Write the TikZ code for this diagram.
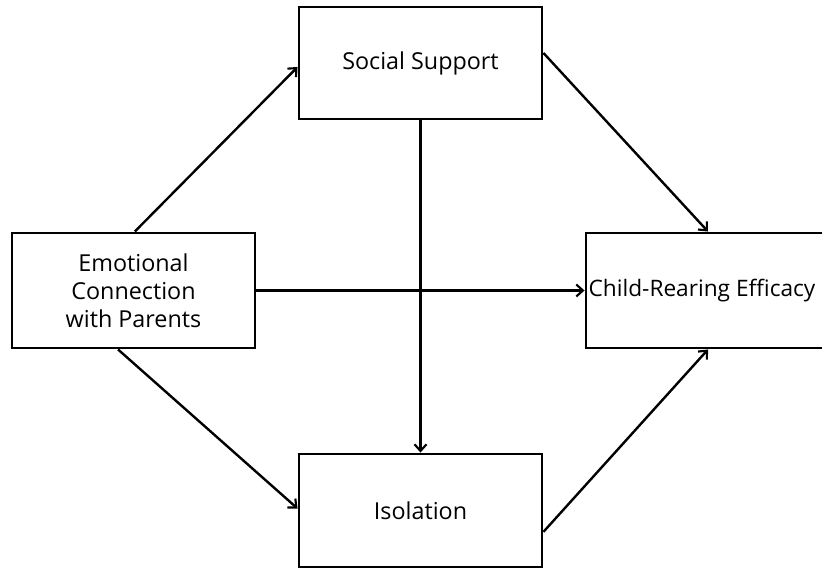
\documentclass[tikz,border=0pt]{standalone}
\usepackage{fontspec}
\setmainfont{Open Sans}
\usetikzlibrary{arrows.meta}
\begin{document}
\begin{tikzpicture}[x=0.75pt,y=-0.75pt,
  box/.style={draw=black,line width=2.2pt,rectangle,align=center,inner sep=0pt,
    font=\fontsize{17.5pt}{21pt}\selectfont},
  conn/.style={line width=1.8pt,-{Straight Barb[length=5pt,width=9pt,line width=1.6pt]}}]
\useasboundingbox (0,0) rectangle (822,570);
\clip (0,0) rectangle (822,570);
\node[box,minimum width=243*0.75pt,minimum height=115*0.75pt] (ec) at (133.5,290.5) {Emotional\\Connection\\with Parents};
\node[box,minimum width=243*0.75pt,minimum height=112*0.75pt] (ss) at (420.5,63) {\raisebox{-2.5pt}{Social Support}};
\node[box,minimum width=243*0.75pt,minimum height=113*0.75pt] (iso) at (420.5,510.5) {\raisebox{-1.5pt}{Isolation}};
\node[box,minimum width=244*0.75pt,minimum height=115*0.75pt,font=\fontsize{17pt}{21pt}\selectfont] (cre) at (708,290.5) {\raisebox{-2pt}{\hspace*{-4.5pt}Child-Rearing Efficacy\hspace*{4.5pt}}};
\draw[conn] ([xshift=1pt]ec.north) -- ([yshift=-3pt]ss.west);
\draw[conn] ([xshift=-11.6pt]ec.south) -- ([yshift=1.5pt]iso.west);
\draw[conn] (ec.east) -- (cre.west);
\draw[conn] (ss.south) -- (iso.north);
\draw[conn] ([yshift=7.5pt]ss.east) -- (cre.north);
\draw[conn] ([yshift=-16pt]iso.east) -- (cre.south);
\end{tikzpicture}
\end{document}
